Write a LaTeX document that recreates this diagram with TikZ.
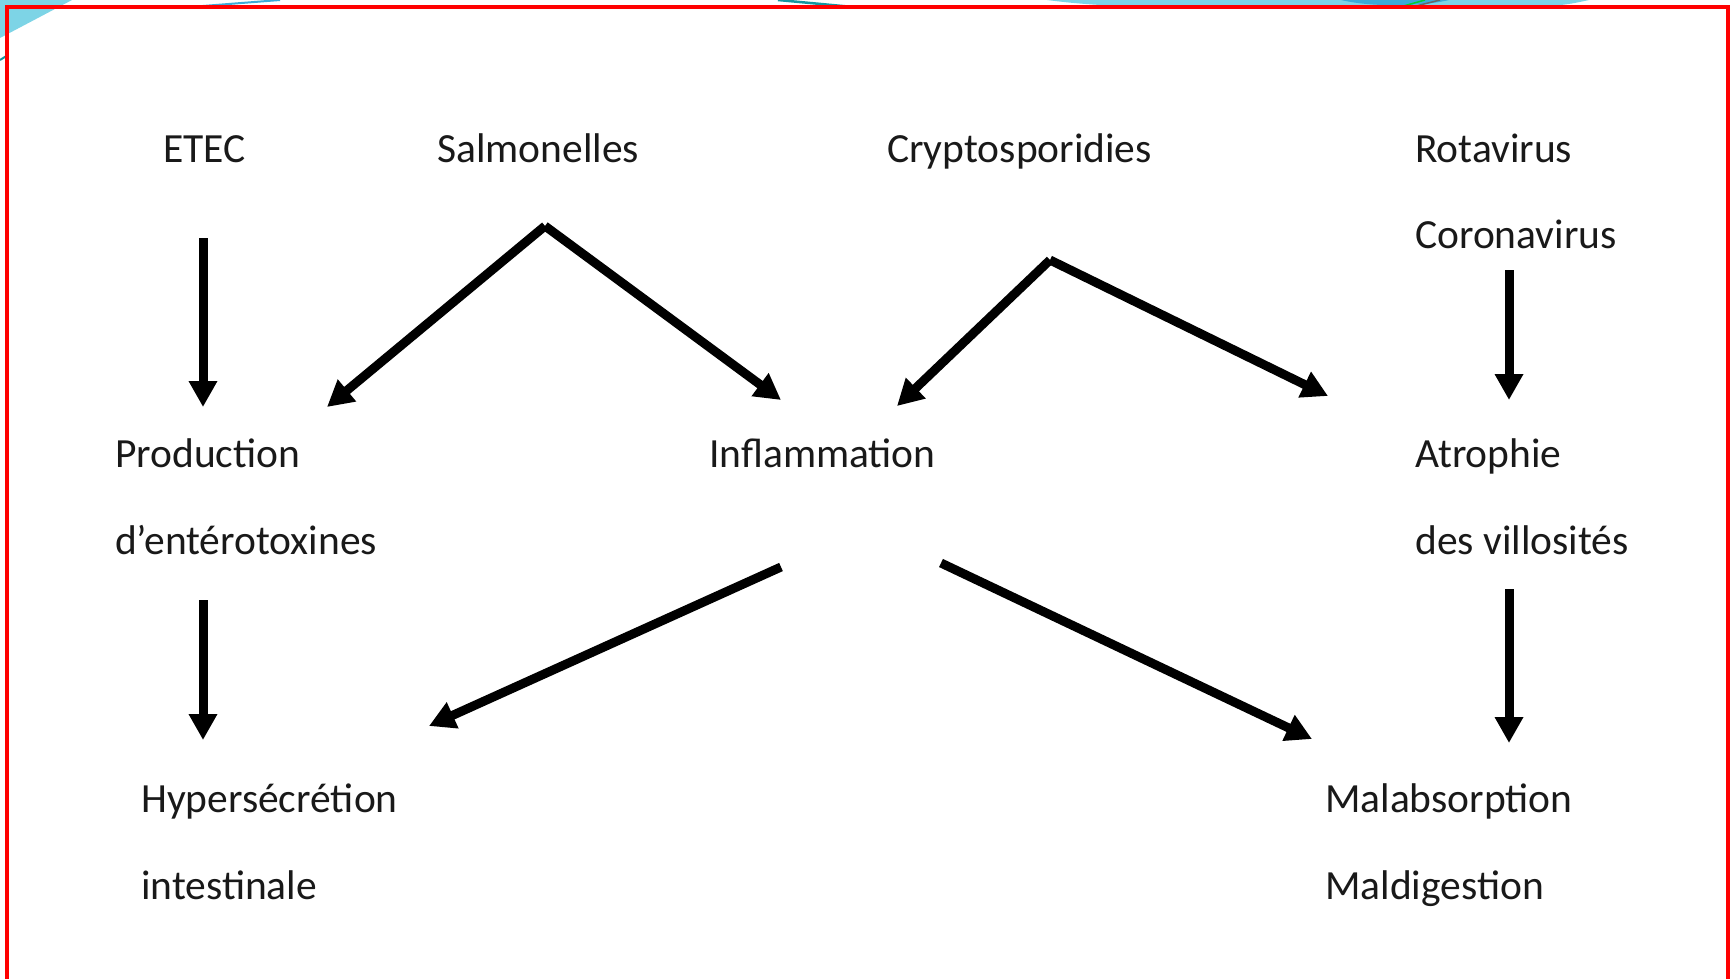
\documentclass[tikz,border=0pt]{standalone}
\usepackage{fontspec}
\setmainfont{Carlito}
\usetikzlibrary{arrows.meta}
\definecolor{deco}{RGB}{125,212,230}
\definecolor{decoblue}{RGB}{60,170,215}
\definecolor{decoteal}{RGB}{20,150,160}
\begin{document}
\begin{tikzpicture}[x=1pt,y=-1pt,
  lbl/.style={anchor=base west,inner sep=0pt,font=\fontsize{41.5}{48}\selectfont,text=black!90},
  arr/.style={line width=9pt,-{Triangle[width=27pt,length=26pt]}}]
\useasboundingbox (0,0) rectangle (1732,979);
\fill[white] (0,0) rectangle (1732,979);
% top decorations
\begin{scope}
\clip (0,0) rectangle (1732,979);
\fill[deco] (0,0) -- (72,0) -- (0,38) -- cycle;
\draw[decoteal,line width=2pt] (0,60) -- (8,55);
\draw[decoblue,line width=2pt] (190,7) -- (280,0);
\draw[decoteal,line width=2.5pt] (778,0) -- (853,7);
\fill[deco] (1047,0) .. controls (1100,7) and (1150,7) .. (1200,7) -- (1520,7) .. controls (1560,7) and (1575,3) .. (1589,0) -- cycle;
\fill[decoblue] (1341,0) .. controls (1370,7) and (1420,7) .. (1449,0) -- cycle;
\draw[green!60!teal,line width=1.5pt] (1400,7) -- (1425,0);
\draw[black!60,line width=1.5pt] (1412,7) -- (1440,0);
\end{scope}
\draw[red,line width=3.5pt] (7,7) rectangle (1728,1000);
% labels
\node[lbl] (etec) at (163,163) {ETEC};
\node[lbl] (salm) at (437,163) {Salmonelles};
\node[lbl] (crypto) at (887,163) {Cryptosporidies};
\node[lbl] (rota) at (1415,163) {Rotavirus};
\node[lbl] (corona) at (1415,248) {Coronavirus};
\node[lbl] (prod) at (115,467) {Production};
\node[lbl] (entero) at (115,554) {d’entérotoxines};
\node[lbl] (infl) at (709,467) {Inflammation};
\node[lbl] (atro) at (1415,467) {Atrophie};
\node[lbl] (villo) at (1415,554) {des villosités};
\node[lbl] (hyper) at (141,812) {Hypersécrétion};
\node[lbl] (intest) at (141,899) {intestinale};
\node[lbl] (malab) at (1325,812) {Malabsorption};
\node[lbl] (maldig) at (1325,899) {Maldigestion};
% connector end points
\coordinate (e1) at (203,238);
\coordinate (e2) at (203,407);
\coordinate (sa) at (545,226);
\coordinate (sl) at (327,407);
\coordinate (sr) at (781,400);
\coordinate (ca) at (1050,260);
\coordinate (cl) at (897,406);
\coordinate (cr) at (1328,396);
\coordinate (r1) at (1509,270);
\coordinate (r2) at (1509,400);
\coordinate (p1) at (203,600);
\coordinate (p2) at (203,740);
\coordinate (i1) at (781,567);
\coordinate (il) at (429,726);
\coordinate (i2) at (941,563);
\coordinate (ir) at (1312,739);
\coordinate (a1) at (1509,589);
\coordinate (a2) at (1509,743);
% arrows
\draw[arr] (e1) -- (e2);
\draw[arr] (sa) -- (sl);
\draw[arr] (sa) -- (sr);
\draw[arr] (ca) -- (cl);
\draw[arr] (ca) -- (cr);
\draw[arr] (r1) -- (r2);
\draw[arr] (p1) -- (p2);
\draw[arr] (i1) -- (il);
\draw[arr] (i2) -- (ir);
\draw[arr] (a1) -- (a2);
\end{tikzpicture}
\end{document}
